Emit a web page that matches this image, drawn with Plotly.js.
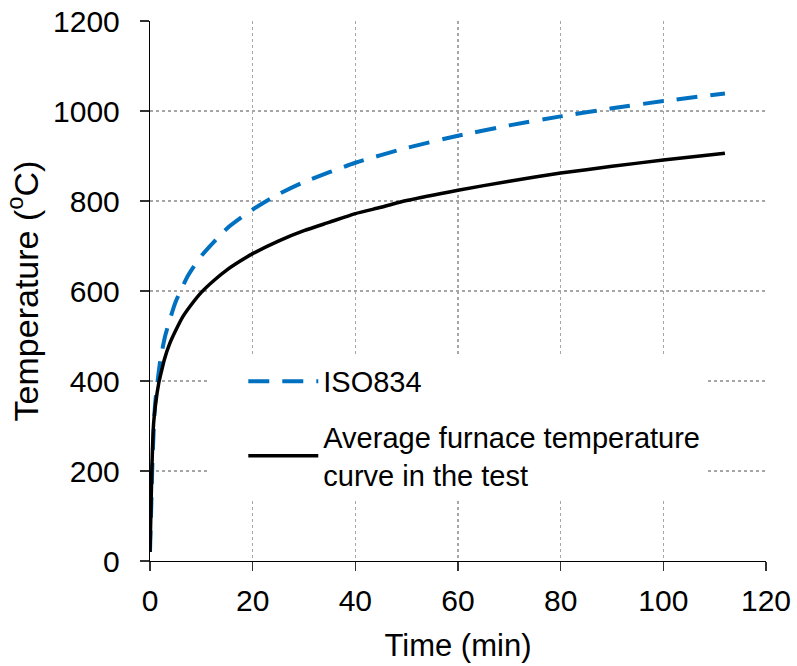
<!DOCTYPE html>
<html>
<head>
<meta charset="utf-8">
<script src="https://cdn.plot.ly/plotly-3.0.1.min.js"></script>
<style>html,body{margin:0;padding:0;background:#fff;}#chart{width:797px;height:666px;}</style>
</head>
<body>
<div id="chart"></div>
<script>
// ISO834 standard fire curve
const isoTime = [0, 0.25, 0.5, 1, 2, 3, 5, 7.5, 10, 15, 20, 25, 30, 40, 50, 60, 70, 80, 90, 100, 112];
const isoTemp = [20, 124, 229, 349, 445, 502, 576, 636, 678, 739, 781, 815, 842, 885, 918, 945, 968, 988, 1006, 1022, 1039];

const testTime = [0, 0.2, 0.35, 0.7, 1.1, 1.7, 2.2, 2.8, 3.8, 5, 6.4, 8, 10, 12.5, 15, 17.5, 20, 25, 30, 35, 40, 45, 50, 60, 70, 80, 90, 100, 112];
const testTemp = [20, 120, 200, 305, 350, 395, 420, 448, 482, 512, 543, 569, 597, 624, 647, 666, 683, 711, 734, 753, 772, 786, 801, 824, 844, 862, 877, 891, 906];

const xTicks = [0, 20, 40, 60, 80, 100, 120];
const yTicks = [0, 200, 400, 600, 800, 1000, 1200];

const FONT = 'Liberation Sans, Arial, sans-serif';

const traces = [
  {
    x: isoTime, y: isoTemp, type: 'scatter', mode: 'lines', name: 'ISO834',
    legendgroup: 'a',
    line: {color: '#0070C0', width: 4, dash: '21px,13px', shape: 'spline', smoothing: 0.6}
  },
  {
    x: testTime, y: testTemp, type: 'scatter', mode: 'lines',
    name: 'Average furnace temperature<br>curve in the test',
    legendgroup: 'b',
    line: {color: '#000000', width: 3.5, shape: 'spline', smoothing: 0.6}
  }
];

const axisCommon = {
  showline: true, linecolor: '#000', linewidth: 1.2,
  ticks: 'outside', ticklen: 9, tickcolor: '#333', tickwidth: 1.2,
  showgrid: true, gridcolor: '#a6a6a6', gridwidth: 1.5, griddash: 'dot',
  zeroline: false, tickfont: {family: FONT, size: 30, color: '#000'}
};

const layout = {
  width: 797, height: 666,
  margin: {l: 150, r: 31, t: 21, b: 105},
  paper_bgcolor: '#fff', plot_bgcolor: '#fff',
  font: {family: FONT, color: '#000'},
  showlegend: true,
  legend: {
    x: 0.093, y: 0.38, xanchor: 'left', yanchor: 'top',
    bgcolor: '#fff', borderwidth: 0, indentation: 36,
    font: {family: FONT, size: 29, color: '#000'},
    itemwidth: 70, tracegroupgap: 15, traceorder: 'grouped'
  },
  xaxis: Object.assign({}, axisCommon, {
    range: [0, 120], tickvals: xTicks, ticktext: xTicks.map(String),
    ticklabelstandoff: 4,
    title: {text: 'Time (min)', font: {family: FONT, size: 31, color: '#000'}, standoff: 18}
  }),
  yaxis: Object.assign({}, axisCommon, {
    range: [0, 1200], tickvals: yTicks, ticktext: yTicks.map(String),
    ticklabelstandoff: 14,
    title: {text: 'Temperature (<sup>o</sup>C)', font: {family: FONT, size: 34, color: '#000'}, standoff: 4}
  })
};

Plotly.newPlot('chart', traces, layout, {displayModeBar: false, staticPlot: true});
</script>
</body>
</html>
